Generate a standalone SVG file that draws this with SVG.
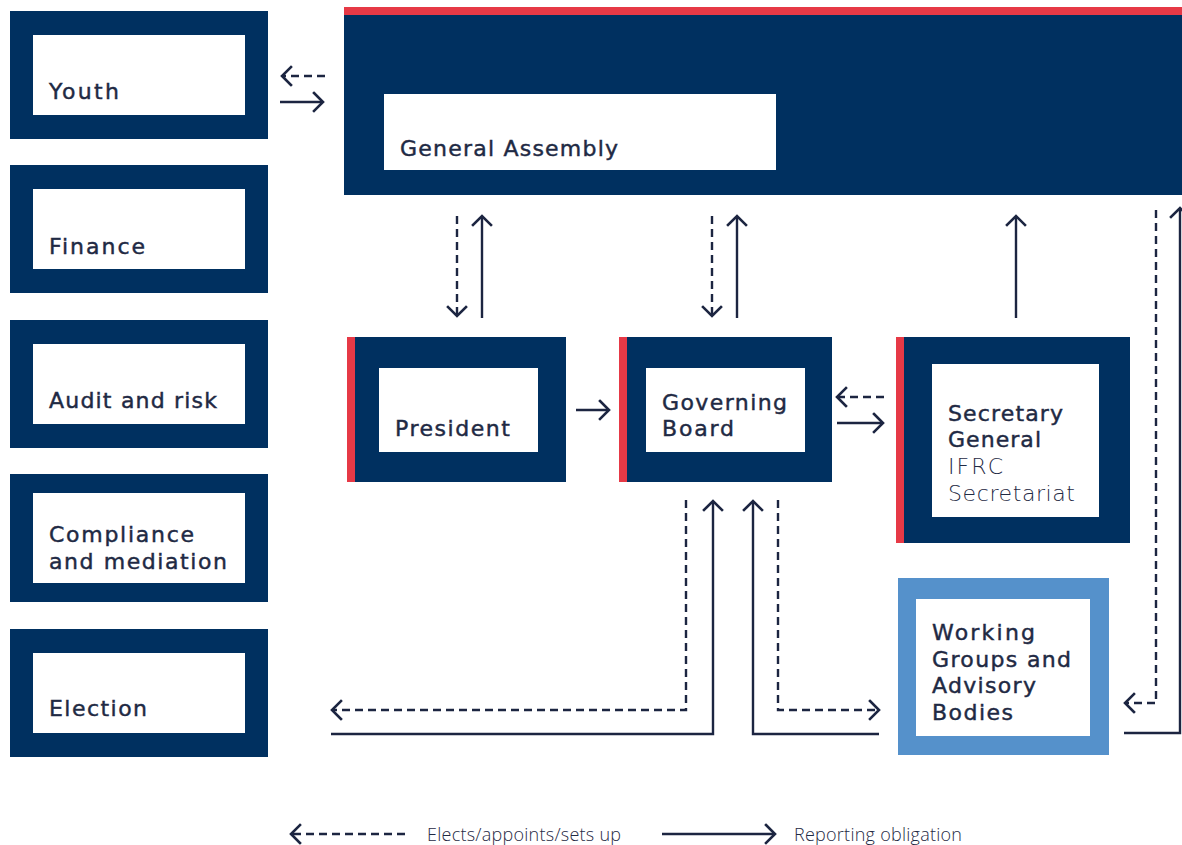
<svg xmlns="http://www.w3.org/2000/svg" width="1182" height="845" viewBox="0 0 1182 845">
<defs>
<marker id="ah" markerUnits="userSpaceOnUse" markerWidth="26" markerHeight="26" viewBox="-13 -13 26 26" refX="0" refY="0" orient="auto" overflow="visible">
<path d="M-9,-9 L0,0 L-9,9" fill="none" stroke="#1c2541" stroke-width="2.6" stroke-linecap="square"/>
</marker>
</defs>
<style>
.navy{fill:#003060}
.red{fill:#e63946}
.lblue{fill:#5591cb}
.inner{fill:#ffffff}
.lbl{font-family:"DejaVu Sans","Liberation Sans",sans-serif;font-size:22px;font-weight:400;fill:#1f2a44;stroke:#1f2a44;stroke-width:0.45}
.lt{font-weight:200;stroke:none}
.leg{font-family:"Open Sans","Liberation Sans",sans-serif;font-size:18px;font-weight:300;fill:#1f2a44}
.c{fill:none;stroke:#1c2541;stroke-width:2.4}
.d{stroke-dasharray:8 5}
.h{marker-end:url(#ah)}
</style>
<rect width="1182" height="845" fill="#ffffff"/>
<g id="youth"><rect class="navy" x="10" y="11" width="258" height="128"/><rect class="inner" x="33" y="35" width="212" height="80"/><text class="lbl" x="49" y="99" textLength="70">Youth</text></g>
<g id="finance"><rect class="navy" x="10" y="165" width="258" height="128"/><rect class="inner" x="33" y="189" width="212" height="80"/><text class="lbl" x="49" y="254" textLength="96">Finance</text></g>
<g id="audit"><rect class="navy" x="10" y="320" width="258" height="128"/><rect class="inner" x="33" y="344" width="212" height="80"/><text class="lbl" x="49" y="408" textLength="168">Audit and risk</text></g>
<g id="compliance"><rect class="navy" x="10" y="474" width="258" height="128"/><rect class="inner" x="33" y="493" width="212" height="90"/><text class="lbl"><tspan x="49" y="542" textLength="145">Compliance</tspan><tspan x="49" y="569" textLength="178">and mediation</tspan></text></g>
<g id="election"><rect class="navy" x="10" y="629" width="258" height="128"/><rect class="inner" x="33" y="653" width="212" height="80"/><text class="lbl" x="49" y="716" textLength="98">Election</text></g>
<g id="general-assembly"><rect class="red" x="344" y="7" width="838" height="8"/><rect class="navy" x="344" y="15" width="838" height="180"/><rect class="inner" x="384" y="94" width="392" height="76"/><text class="lbl" x="400" y="156" textLength="218">General Assembly</text></g>
<g id="president"><rect class="navy" x="347" y="337" width="219" height="145"/><rect class="red" x="347" y="337" width="8" height="145"/><rect class="inner" x="379" y="368" width="159" height="84"/><text class="lbl" x="395" y="436" textLength="115">President</text></g>
<g id="governing-board"><rect class="navy" x="619" y="337" width="213" height="145"/><rect class="red" x="619" y="337" width="8" height="145"/><rect class="inner" x="646" y="368" width="159" height="84"/><text class="lbl"><tspan x="662" y="410" textLength="125">Governing</tspan><tspan x="662" y="436" textLength="72">Board</tspan></text></g>
<g id="secretary-general"><rect class="navy" x="896" y="337" width="234" height="206"/><rect class="red" x="896" y="337" width="8" height="206"/><rect class="inner" x="932" y="364" width="167" height="153"/><text class="lbl"><tspan x="948" y="421" textLength="115">Secretary</tspan><tspan x="948" y="447" textLength="93">General</tspan><tspan class="lt" x="948" y="474" textLength="55">IFRC</tspan><tspan class="lt" x="948" y="501" textLength="127">Secretariat</tspan></text></g>
<g id="working-groups"><rect class="lblue" x="898" y="578" width="211" height="177"/><rect class="inner" x="916" y="599" width="174" height="137"/><text class="lbl"><tspan x="932" y="640" textLength="103">Working</tspan><tspan x="932" y="667" textLength="139">Groups and</tspan><tspan x="932" y="693" textLength="104">Advisory</tspan><tspan x="932" y="720" textLength="81">Bodies</tspan></text></g>
<g id="connectors">
<path class="c d h" d="M325,76 H282"/>
<path class="c h" d="M280,102 H323"/>
<path class="c d h" d="M457,216 V316"/>
<path class="c h" d="M482,318 V216"/>
<path class="c d h" d="M712,216 V316"/>
<path class="c h" d="M737,318 V216"/>
<path class="c h" d="M1016,318 V216"/>
<path class="c h" d="M576,410 H609"/>
<path class="c d h" d="M884,397 H837"/>
<path class="c h" d="M837,423 H883"/>
<path class="c d h" d="M1156,210 V703 H1125"/>
<path class="c h" d="M1124,733 H1180 V208"/>
<path class="c d h" d="M686,500 V710 H332"/>
<path class="c h" d="M331,734 H713 V501"/>
<path class="c h" d="M879,734 H753 V501"/>
<path class="c d h" d="M778,500 V710 H879"/>
</g>
<g id="legend">
<path class="c d h" d="M405,834 H291"/>
<text class="leg" x="427" y="841" textLength="194">Elects/appoints/sets up</text>
<path class="c h" d="M662,834 H775"/>
<text class="leg" x="794" y="841" textLength="168">Reporting obligation</text>
</g>
</svg>
